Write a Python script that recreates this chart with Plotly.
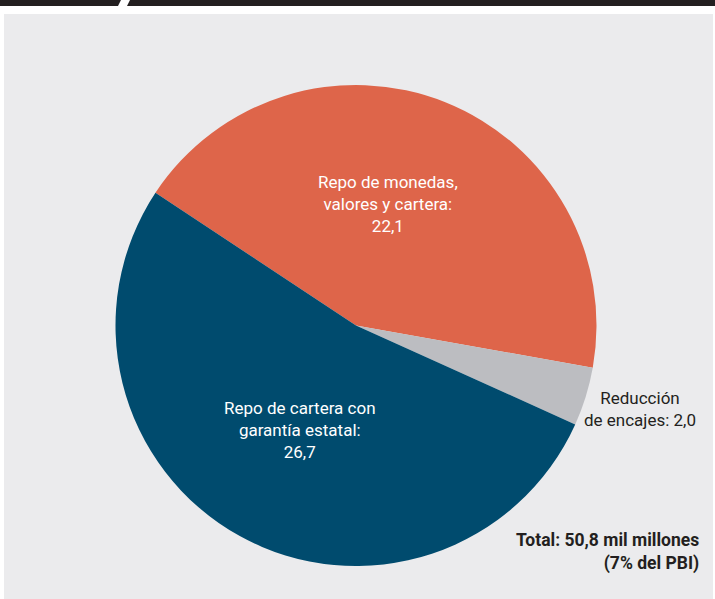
import plotly.graph_objects as go

labels = ["Repo de monedas, valores y cartera", "Reducción de encajes", "Repo de cartera con garantía estatal"]
values = [22.1, 2.0, 26.7]
colors = ["#DE654A", "#BCBDC1", "#004B6E"]
label_texts = ["Repo de monedas,<br>valores y cartera:<br>", "Reducción<br>de encajes: ", "Repo de cartera con<br>garantía estatal:<br>"]
total_text = "Total: 50,8 mil millones<br>(7% del PBI)"

W, H = 715, 599
FONT = "Roboto, sans-serif"

def fmt(v):
    return f"{v:.1f}".replace(".", ",")

fig = go.Figure()
fig.add_trace(go.Pie(
    labels=labels, values=values, sort=False, direction="clockwise",
    rotation=303.5, marker=dict(colors=colors, line=dict(width=0)),
    textinfo="none", hoverinfo="label+value", showlegend=False,
    domain=dict(x=[115 / W, 597 / W], y=[(H - 566) / H, (H - 85) / H]),
))

shapes = [
    dict(type="rect", xref="paper", yref="paper", x0=4 / W, x1=713 / W, y0=0, y1=(H - 14) / H,
         fillcolor="#EBEBED", line=dict(width=0), layer="below"),
    dict(type="rect", xref="paper", yref="paper", x0=0, x1=1, y0=(H - 6) / H, y1=1,
         fillcolor="#231F20", line=dict(width=0), layer="below"),
    dict(type="path", xref="paper", yref="paper",
         path=f"M {121/W} 1 L {130/W} 1 L {127/W} {(H-6)/H} L {118/W} {(H-6)/H} Z",
         fillcolor="white", line=dict(width=0), layer="below"),
]

annotations = [
    dict(x=388 / W, y=(H - 204) / H, text=label_texts[0] + fmt(values[0]), showarrow=False,
         font=dict(family=FONT, size=17, color="white"), align="center", xanchor="center", yanchor="middle"),
    dict(x=300 / W, y=(H - 430) / H, text=label_texts[2] + fmt(values[2]), showarrow=False,
         font=dict(family=FONT, size=17, color="white"), align="center", xanchor="center", yanchor="middle"),
    dict(x=640 / W, y=(H - 409) / H, text=label_texts[1] + fmt(values[1]), showarrow=False,
         font=dict(family=FONT, size=17, color="#231F20"), align="center", xanchor="center", yanchor="middle"),
    dict(x=701 / W, y=(H - 552) / H, text="<b>" + total_text + "</b>", showarrow=False,
         font=dict(family=FONT, size=17.5, color="#231F20"), align="right", xanchor="right", yanchor="middle"),
]

fig.update_layout(
    width=W, height=H, margin=dict(l=0, r=0, t=0, b=0),
    paper_bgcolor="white", plot_bgcolor="white",
    shapes=shapes, annotations=annotations,
)
fig.write_html("out.html")
